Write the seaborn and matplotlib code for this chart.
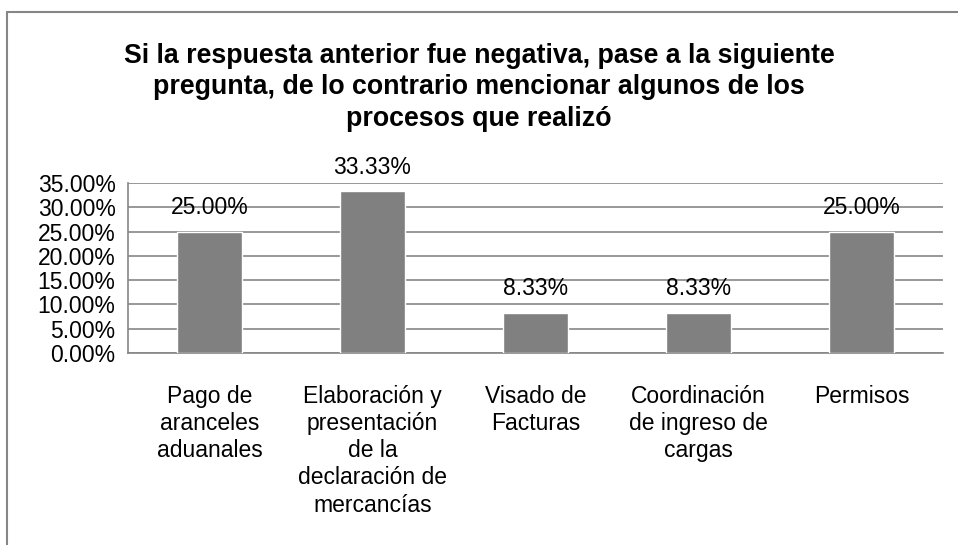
import pandas as pd
import matplotlib.pyplot as plt
import seaborn as sns
from matplotlib.lines import Line2D

# chart values
categories = [
    "Pago de\naranceles\naduanales",
    "Elaboración y\npresentación\nde la\ndeclaración de\nmercancías",
    "Visado de\nFacturas",
    "Coordinación\nde ingreso de\ncargas",
    "Permisos",
]
percentages = [0.25, 0.3333, 0.0833, 0.0833, 0.25]
value_labels = ["25.00%", "33.33%", "8.33%", "8.33%", "25.00%"]
y_ticks = [0, 0.05, 0.10, 0.15, 0.20, 0.25, 0.30, 0.35]

title = ("Si la respuesta anterior fue negativa, pase a la siguiente\n"
         "pregunta, de lo contrario mencionar algunos de los\n"
         "procesos que realizó")

sns.set_style("white")
plt.rcParams["font.family"] = ["Liberation Sans", "DejaVu Sans"]
plt.rcParams["text.color"] = "black"
plt.rcParams["xtick.color"] = "black"
plt.rcParams["ytick.color"] = "black"

grid_col = "#868686"
bar_col = "#808080"

fig = plt.figure(figsize=(9.58, 5.45), dpi=100)
W, H = 958, 545
ax = fig.add_axes([128 / W, 1 - 353 / H, (943 - 128) / W, (353 - 183) / H])

df = pd.DataFrame({"cat": categories, "pct": percentages})
sns.barplot(data=df, x="cat", y="pct", color=bar_col, saturation=1,
            width=0.4, ax=ax, zorder=3)

ax.set_ylim(0, 0.35)
ax.set_xlim(-0.5, len(categories) - 0.5)
ax.set_yticks(y_ticks)
ax.set_yticklabels([f"{t * 100:.2f}%" for t in y_ticks], fontsize=16.5)
ax.yaxis.grid(True, color=grid_col, linewidth=1.2, zorder=0)
ax.set_axisbelow(True)

for s in ["top", "right"]:
    ax.spines[s].set_visible(False)
for s in ["left", "bottom"]:
    ax.spines[s].set_color(grid_col)
    ax.spines[s].set_linewidth(1.2)

ax.tick_params(axis="y", direction="out", length=6, width=1.2, color=grid_col, pad=3)
ax.tick_params(axis="x", which="major", length=0, pad=23)
ax.set_xticks([i - 0.5 for i in range(len(categories) + 1)], minor=True)
ax.tick_params(axis="x", which="minor", direction="out", length=6, width=1.2, color=grid_col)
ax.set_xticklabels(categories, fontsize=16.5, linespacing=1.23, va="top")
ax.set_xlabel("")
ax.set_ylabel("")

for i, (v, lab) in enumerate(zip(percentages, value_labels)):
    ax.annotate(lab, (i, v), xytext=(0, 9), textcoords="offset points",
                ha="center", va="bottom", fontsize=16.5, zorder=4)

fig.text(0.5, 1 - 43 / H, title, ha="center", va="top",
         fontsize=19.3, fontweight="bold", linespacing=1.27)

# outer chart frame (left and top edges visible)
fig.add_artist(Line2D([7 / W, 7 / W], [0, 1 - 12 / H], color=grid_col, lw=1.5,
                      transform=fig.transFigure))
fig.add_artist(Line2D([7 / W, 1], [1 - 12 / H, 1 - 12 / H], color=grid_col, lw=1.5,
                      transform=fig.transFigure))

fig.savefig("out.png", dpi=100)
